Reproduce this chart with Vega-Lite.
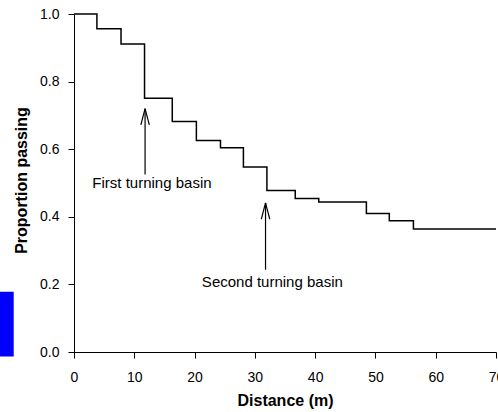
{
  "$schema": "https://vega.github.io/schema/vega-lite/v6.json",
  "autosize": "none",
  "width": 422,
  "height": 338,
  "padding": {"left": 74, "top": 14, "right": 2, "bottom": 60},
  "background": "white",
  "config": {
    "view": {"stroke": null},
    "font": "Liberation Sans",
    "axis": {
      "grid": false,
      "domainColor": "#000",
      "domainWidth": 1,
      "tickColor": "#000",
      "tickWidth": 1,
      "tickSize": 6,
      "labelColor": "#000",
      "labelFont": "Liberation Sans",
      "labelFontSize": 14,
      "titleColor": "#000",
      "titleFont": "Liberation Sans",
      "titleFontSize": 16,
      "titleFontWeight": "bold"
    }
  },
  "encoding": {
    "x": {
      "field": "x", "type": "quantitative",
      "scale": {"domain": [0, 70], "nice": false, "zero": false},
      "axis": {"title": "Distance (m)", "values": [0,10,20,30,40,50,60,70], "format": "d",
               "labelBaseline": "alphabetic", "labelPadding": 23, "labelFlush": false, "labelOverlap": false,
               "titleBaseline": "alphabetic", "titleY": 53}
    },
    "y": {
      "field": "y", "type": "quantitative",
      "scale": {"domain": [0, 1], "nice": false, "zero": false},
      "axis": {"title": "Proportion passing", "values": [0,0.2,0.4,0.6,0.8,1.0], "format": ".1f",
               "labelPadding": 9, "labelFlush": false, "labelOverlap": false,
               "titleBaseline": "alphabetic", "titleX": -48, "titleY": 166, "titleAngle": -90}
    }
  },
  "layer": [
    {
      "data": {"values": [
        {"x": 0, "y": 1.0},
        {"x": 3.8, "y": 0.956},
        {"x": 7.8, "y": 0.911},
        {"x": 11.7, "y": 0.751},
        {"x": 16.3, "y": 0.682},
        {"x": 20.3, "y": 0.626},
        {"x": 24.3, "y": 0.604},
        {"x": 28.1, "y": 0.547},
        {"x": 32.0, "y": 0.478},
        {"x": 36.7, "y": 0.454},
        {"x": 40.6, "y": 0.444},
        {"x": 48.5, "y": 0.410},
        {"x": 52.3, "y": 0.388},
        {"x": 56.3, "y": 0.364},
        {"x": 70, "y": 0.364}
      ]},
      "mark": {"type": "line", "interpolate": "step-after", "color": "#000", "strokeWidth": 1.5}
    },
    {
      "data": {"values": [
        {"x": 11.79, "y": 0.720, "x2": 11.79, "y2": 0.525},
        {"x": 11.79, "y": 0.720, "x2": 11.09, "y2": 0.672},
        {"x": 11.79, "y": 0.720, "x2": 12.49, "y2": 0.672},
        {"x": 31.77, "y": 0.441, "x2": 31.77, "y2": 0.2435},
        {"x": 31.77, "y": 0.441, "x2": 31.07, "y2": 0.393},
        {"x": 31.77, "y": 0.441, "x2": 32.47, "y2": 0.393}
      ]},
      "mark": {"type": "rule", "color": "#000", "strokeWidth": 1.2},
      "encoding": {
        "x2": {"field": "x2"},
        "y2": {"field": "y2"}
      }
    },
    {
      "data": {"values": [
        {"x": 12.93, "y": 0.501, "label": "First turning basin"},
        {"x": 32.9, "y": 0.208, "label": "Second turning basin"}
      ]},
      "mark": {"type": "text", "font": "Liberation Sans", "fontSize": 15, "color": "#000", "align": "center", "baseline": "middle"},
      "encoding": {"text": {"field": "label"}}
    },
    {
      "data": {"values": [
        {"x": -12.4, "y": 0.1784, "x2": -10.0, "y2": -0.013}
      ]},
      "mark": {"type": "rect", "color": "#0000ff", "clip": false},
      "encoding": {
        "x2": {"field": "x2"},
        "y2": {"field": "y2"}
      }
    }
  ]
}
